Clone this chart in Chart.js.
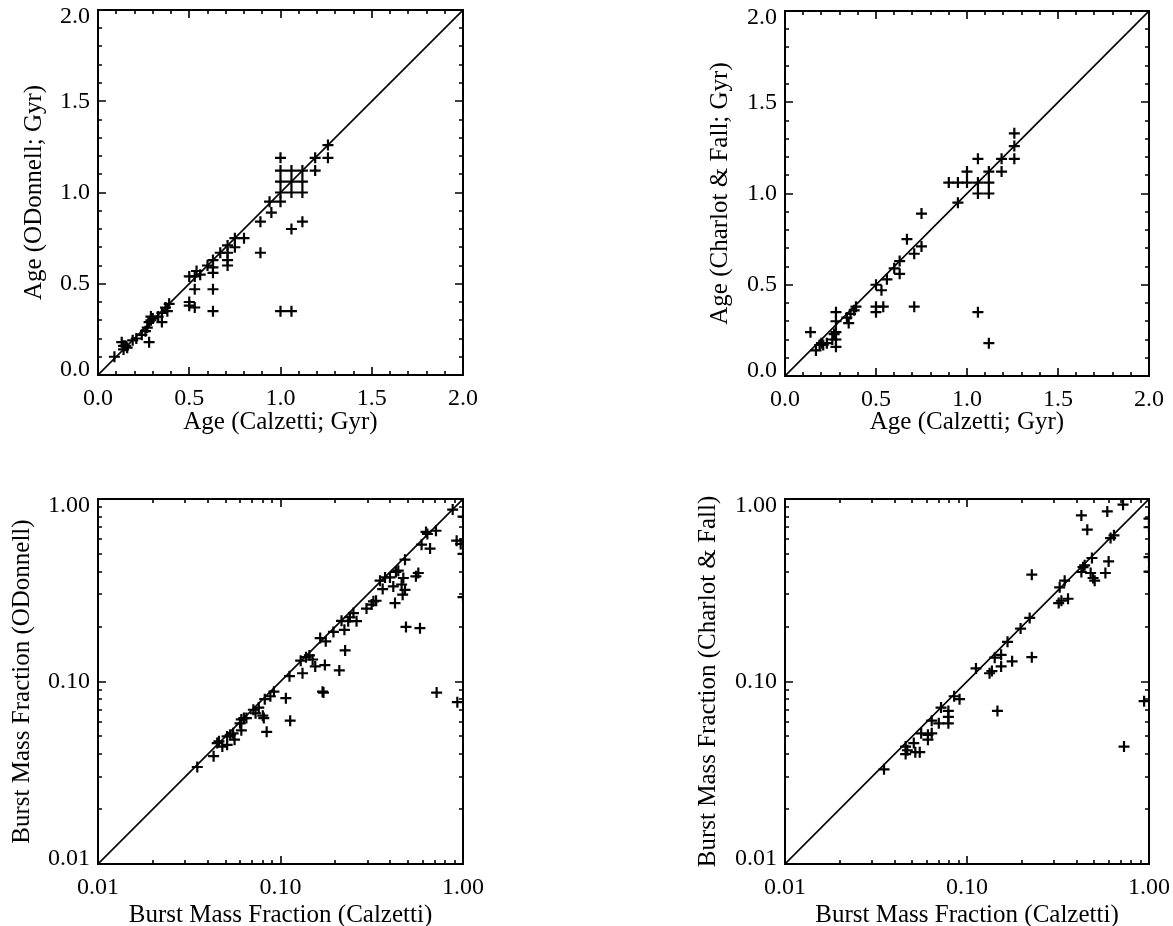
<!DOCTYPE html>
<html>
<head>
<meta charset="utf-8">
<script src="https://cdn.jsdelivr.net/npm/chart.js@4.4.0/dist/chart.umd.min.js"></script>
<style>
  html, body { margin: 0; padding: 0; background: #fff; width: 1173px; height: 926px; overflow: hidden; }
  canvas { position: absolute; }
</style>
</head>
<body>
<canvas id="ageOD" style="left:0px;top:0px" width="586" height="463"></canvas>
<canvas id="ageCF" style="left:586px;top:0px" width="587" height="463"></canvas>
<canvas id="fracOD" style="left:0px;top:440px" width="586" height="486"></canvas>
<canvas id="fracCF" style="left:586px;top:440px" width="587" height="486"></canvas>
<script>
// Axis ranges and labelled tick values
const ageRange = [0.0, 2.0];
const ageTicks = [0.0, 0.5, 1.0, 1.5, 2.0];
const fracRange = [0.01, 1.00];
const fracTicks = [0.01, 0.10, 1.00];

// Burst age (Gyr): Calzetti vs O'Donnell extinction
const ageCalzettiOD = [0.09,0.13,0.14,0.15,0.14,0.16,0.19,0.21,0.24,0.26,0.27,0.28,0.28,0.29,0.29,0.30,0.33,0.35,0.35,0.37,0.38,0.39,
  0.50,0.50,0.53,0.50,0.53,0.54,0.53,0.56,0.60,0.63,0.63,0.63,0.63,0.63,0.67,0.71,0.71,0.71,0.71,0.75,0.75,0.80,0.89,0.89,0.94,0.95,
  1.00,1.00,1.00,1.00,1.00,1.00,1.06,1.06,1.06,1.06,1.06,1.12,1.12,1.12,1.12,1.19,1.19,1.26,1.26];
const ageODonnell = [0.10,0.18,0.16,0.16,0.14,0.15,0.19,0.20,0.22,0.24,0.26,0.18,0.29,0.32,0.30,0.31,0.32,0.34,0.29,0.37,0.35,0.39,
  0.38,0.40,0.37,0.54,0.54,0.57,0.47,0.55,0.60,0.63,0.59,0.56,0.47,0.35,0.67,0.71,0.67,0.63,0.60,0.75,0.70,0.75,0.84,0.67,0.95,0.89,
  1.19,1.12,1.06,1.00,0.95,0.35,1.12,1.06,1.00,0.80,0.35,1.12,1.06,1.00,0.84,1.19,1.12,1.26,1.19];

// Burst age (Gyr): Calzetti vs Charlot & Fall extinction
const ageCalzettiCF = [0.14,0.17,0.19,0.20,0.21,0.23,0.26,0.27,0.28,0.28,0.28,0.28,0.28,0.34,0.35,0.36,0.38,0.39,
  0.50,0.50,0.50,0.53,0.54,0.56,0.60,0.63,0.63,0.67,0.71,0.71,0.75,0.75,
  0.90,0.95,0.95,1.00,1.00,1.06,1.06,1.06,1.06,1.12,1.12,1.12,1.12,1.19,1.19,1.26,1.26,1.26];
const ageCharlotFall = [0.24,0.14,0.17,0.18,0.17,0.18,0.20,0.23,0.16,0.20,0.24,0.30,0.35,0.32,0.29,0.34,0.36,0.38,
  0.50,0.38,0.35,0.47,0.38,0.53,0.59,0.63,0.56,0.75,0.67,0.38,0.89,0.71,
  1.06,1.06,0.95,1.06,1.12,1.06,1.19,1.00,0.35,1.12,1.06,1.00,0.18,1.19,1.12,1.33,1.26,1.19];

// Burst mass fraction: Calzetti vs O'Donnell extinction
const fracCalzettiOD = [0.035,0.043,0.045,0.046,0.048,0.051,0.051,0.053,0.055,0.056,0.060,0.061,0.063,0.061,0.065,0.071,0.073,0.076,
  0.080,0.081,0.084,0.082,0.088,0.092,0.107,0.112,0.113,0.129,0.132,0.138,0.144,0.150,0.155,0.165,0.170,0.172,0.175,0.177,
  0.195,0.210,0.216,0.224,0.226,0.235,0.240,0.251,0.261,0.296,0.316,0.323,0.334,0.351,0.363,0.374,0.398,0.415,0.424,0.429,
  0.442,0.461,0.467,0.471,0.481,0.487,0.481,0.552,0.569,0.581,0.593,0.627,0.638,0.660,0.711,0.717,0.878,0.923,0.931,0.971,
  1.00,1.00,1.00];
const fracODonnell = [0.034,0.039,0.046,0.047,0.044,0.045,0.050,0.051,0.052,0.048,0.059,0.062,0.063,0.054,0.063,0.070,0.067,0.072,
  0.065,0.063,0.053,0.080,0.083,0.088,0.081,0.107,0.061,0.130,0.111,0.136,0.139,0.132,0.121,0.173,0.088,0.087,0.123,0.166,
  0.187,0.115,0.215,0.192,0.148,0.214,0.225,0.237,0.214,0.251,0.264,0.275,0.277,0.357,0.321,0.372,0.372,0.332,0.269,0.398,
  0.405,0.340,0.299,0.369,0.465,0.199,0.318,0.377,0.393,0.196,0.562,0.660,0.643,0.535,0.670,0.087,0.875,0.591,0.077,0.567,
  0.80,0.50,0.29];

// Burst mass fraction: Calzetti vs Charlot & Fall extinction
const fracCalzettiCF = [0.035,0.046,0.046,0.047,0.051,0.052,0.055,0.056,0.061,0.061,0.064,0.064,0.070,0.072,0.079,0.079,0.079,
  0.085,0.091,0.112,0.133,0.137,0.142,0.147,0.154,0.154,0.167,0.177,0.197,0.221,0.227,0.227,0.319,0.323,0.330,0.344,0.359,
  0.425,0.425,0.434,0.443,0.458,0.478,0.486,0.493,0.503,0.576,0.590,0.600,0.615,0.642,0.720,0.729,0.940,
  1.00,1.00,1.00,1.00];
const fracCharlotFall = [0.033,0.044,0.040,0.042,0.046,0.041,0.041,0.052,0.051,0.048,0.052,0.061,0.059,0.072,0.069,0.064,0.059,
  0.083,0.080,0.118,0.111,0.114,0.135,0.069,0.140,0.121,0.165,0.129,0.195,0.223,0.385,0.136,0.269,0.328,0.277,0.357,0.284,
  0.813,0.398,0.423,0.433,0.679,0.393,0.475,0.369,0.357,0.393,0.855,0.455,0.611,0.632,0.931,0.044,0.078,
  0.78,0.70,0.48,0.40];

const FONT = 'Liberation Serif';

// Closed frame with inward tick marks on all four sides
const framePlugin = {
  id: 'frame',
  beforeDraw(chart) {
    // pull the end labels of the vertical axis in toward the plot
    const ys = chart.scales.y;
    const items = ys.getLabelItems(chart.chartArea);
    if (items.length) {
      items[0].options.translation[1] -= 5;
      items[items.length - 1].options.translation[1] += 7;
    }
  },
  afterDraw(chart, args, opts) {
    const {ctx, chartArea: a} = chart;
    const xs = chart.scales.x, ys = chart.scales.y;
    ctx.save();
    ctx.strokeStyle = '#000';
    ctx.lineWidth = 1.6;
    ctx.beginPath();
    const tickX = (v, len) => {
      const p = Math.round(xs.getPixelForValue(v));
      ctx.moveTo(p, a.bottom); ctx.lineTo(p, a.bottom - len);
      ctx.moveTo(p, a.top); ctx.lineTo(p, a.top + len);
    };
    const tickY = (v, len) => {
      const p = Math.round(ys.getPixelForValue(v));
      ctx.moveTo(a.left, p); ctx.lineTo(a.left + len, p);
      ctx.moveTo(a.right, p); ctx.lineTo(a.right - len, p);
    };
    opts.majors.forEach(v => { tickX(v, 8); tickY(v, 8); });
    opts.minors.forEach(v => { tickX(v, 4); tickY(v, 4); });
    ctx.stroke();
    ctx.lineWidth = 2;
    ctx.strokeRect(a.left, a.top, a.right - a.left, a.bottom - a.top);
    ctx.restore();
  }
};

function linearMinors() {
  const out = [];
  for (let i = 1; i < 20; i++) if (i % 5 !== 0) out.push(i / 10);
  return out;
}
function logMinors() {
  const out = [];
  [0.01, 0.1].forEach(d => { for (let m = 2; m <= 9; m++) out.push(m * d); });
  return out;
}

function makePanel(id, cfg) {
  const points = cfg.xs.map((x, i) => ({x: x, y: cfg.ys[i]}));
  const isLog = cfg.type === 'logarithmic';
  const fmt = v => Number(v).toFixed(isLog ? 2 : 1);
  const axis = (title, titlePad, isX) => ({
    type: cfg.type,
    min: cfg.range[0],
    max: cfg.range[1],
    afterBuildTicks: s => { s.ticks = cfg.ticks.map(v => ({value: v})); },
    afterFit: s => {
      if (isX) { s.height = cfg.xAxisH; s.paddingLeft = 0; s.paddingRight = 0; }
      else { s.width = cfg.yAxisW; s.paddingTop = 0; s.paddingBottom = 0; }
    },
    grid: {display: false, drawTicks: false},
    border: {display: false},
    ticks: {
      color: '#000',
      font: {family: FONT, size: 24},
      padding: isX ? 9 : 8,
      autoSkip: false,
      maxRotation: 0,
      callback: fmt
    },
    title: {
      display: true,
      text: title,
      color: '#000',
      font: {family: FONT, size: 25, lineHeight: 1},
      padding: titlePad
    }
  });
  return new Chart(document.getElementById(id), {
    type: 'scatter',
    data: {
      datasets: [
        {
          data: points,
          pointStyle: 'cross',
          pointRadius: 5.5,
          pointBorderWidth: 2.2,
          borderColor: '#000',
          backgroundColor: '#000',
          clip: 0
        },
        {
          data: [{x: cfg.range[0], y: cfg.range[0]}, {x: cfg.range[1], y: cfg.range[1]}],
          showLine: true,
          borderColor: '#000',
          borderWidth: 1.6,
          pointRadius: 0,
          clip: 0
        }
      ]
    },
    options: {
      responsive: false,
      animation: false,
      events: [],
      layout: {padding: cfg.padding},
      plugins: {
        legend: {display: false},
        tooltip: {enabled: false},
        frame: {majors: cfg.ticks, minors: isLog ? logMinors() : linearMinors()}
      },
      scales: {
        x: axis(cfg.xTitle, {top: 0, bottom: cfg.xTitlePad}, true),
        y: axis(cfg.yTitle, {top: cfg.yTitlePad, bottom: 0}, false)
      }
    },
    plugins: [framePlugin]
  });
}

makePanel('ageOD', {
  type: 'linear', range: ageRange, ticks: ageTicks,
  xs: ageCalzettiOD, ys: ageODonnell,
  xTitle: 'Age (Calzetti; Gyr)', yTitle: 'Age (ODonnell; Gyr)',
  padding: {left: 0, top: 10, right: 123, bottom: 26},
  yAxisW: 98, xAxisH: 62, xTitlePad: 2.5, yTitlePad: 21.5
});
makePanel('ageCF', {
  type: 'linear', range: ageRange, ticks: ageTicks,
  xs: ageCalzettiCF, ys: ageCharlotFall,
  xTitle: 'Age (Calzetti; Gyr)', yTitle: 'Age (Charlot & Fall; Gyr)',
  padding: {left: 100, top: 11, right: 24, bottom: 25},
  yAxisW: 99, xAxisH: 62, xTitlePad: 3.5, yTitlePad: 21.5
});
makePanel('fracOD', {
  type: 'logarithmic', range: fracRange, ticks: fracTicks,
  xs: fracCalzettiOD, ys: fracODonnell,
  xTitle: 'Burst Mass Fraction (Calzetti)', yTitle: 'Burst Mass Fraction (ODonnell)',
  padding: {left: 0, top: 59, right: 123, bottom: 0},
  yAxisW: 98, xAxisH: 62, xTitlePad: -1.5, yTitlePad: 9.5
});
makePanel('fracCF', {
  type: 'logarithmic', range: fracRange, ticks: fracTicks,
  xs: fracCalzettiCF, ys: fracCharlotFall,
  xTitle: 'Burst Mass Fraction (Calzetti)', yTitle: 'Burst Mass Fraction (Charlot & Fall)',
  padding: {left: 100, top: 59, right: 24, bottom: 0},
  yAxisW: 99, xAxisH: 62, xTitlePad: -1.5, yTitlePad: 9.5
});
</script>
</body>
</html>
